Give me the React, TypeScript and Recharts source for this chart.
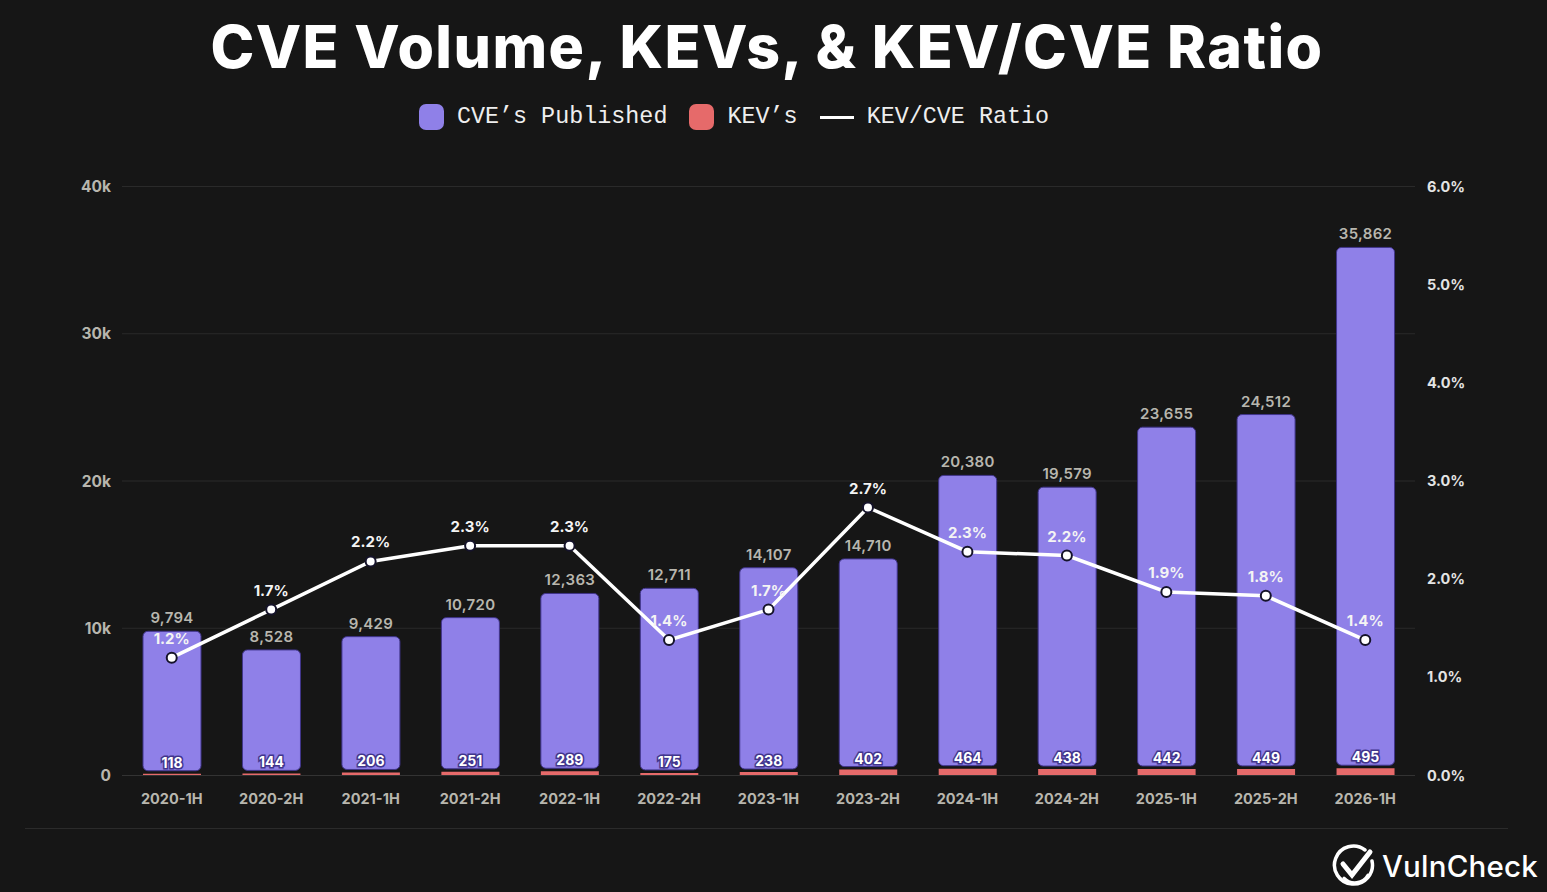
import React from 'react';
import {
  Bar,
  CartesianGrid,
  ComposedChart,
  LabelList,
  Legend,
  Line,
  XAxis,
  YAxis,
} from 'recharts';

const periods = [
  '2020-1H', '2020-2H', '2021-1H', '2021-2H', '2022-1H', '2022-2H', '2023-1H',
  '2023-2H', '2024-1H', '2024-2H', '2025-1H', '2025-2H', '2026-1H',
];
const cves = [9794, 8528, 9429, 10720, 12363, 12711, 14107, 14710, 20380, 19579, 23655, 24512, 35862];
const kevs = [118, 144, 206, 251, 289, 175, 238, 402, 464, 438, 442, 449, 495];
const ratios = [1.2, 1.69, 2.18, 2.34, 2.34, 1.38, 1.69, 2.73, 2.28, 2.24, 1.87, 1.83, 1.38];
const volumeTicks = [0, 10000, 20000, 30000, 40000];
const ratioTicks = [0, 1, 2, 3, 4, 5, 6];

const BG = '#161616';
const PURPLE = '#8f80e8';
const RED = '#e66a6a';
const TICK = '#b8b6ae';
const FONT = 'Inter, "Noto Sans", sans-serif';

// the purple part sits on top of the red one, only the part above it is stacked
const rows = periods.map((period, i) => ({
  period,
  cve: cves[i],
  kev: kevs[i],
  rest: cves[i] - kevs[i],
  ratio: ratios[i],
}));

const CveBar = (props: any) => {
  const { x, y, width, height } = props;
  return (
    <rect
      x={x}
      y={y}
      width={width}
      height={Math.max(height - 3, 0)}
      rx={5}
      fill={PURPLE}
      stroke="#41358c"
      strokeWidth={1}
    />
  );
};

const ChartLegend = ({ payload }: any) => {
  const items = [...(payload || [])].sort((a: any, b: any) =>
    a.value.startsWith('CVE') ? -1 : b.value.startsWith('CVE') ? 1 : a.value.localeCompare(b.value),
  );
  return (
    <div style={{ display: 'flex', alignItems: 'center', justifyContent: 'center', fontFamily: '"Liberation Mono", monospace', fontSize: 23.4, color: '#eeeeee' }}>
      {items.map((item: any) => (
        <div key={item.value} style={{ display: 'flex', alignItems: 'center', marginRight: 22 }}>
          {item.type === 'line' ? (
            <div style={{ width: 34, height: 3, background: '#fff', marginRight: 13 }} />
          ) : (
            <div style={{ width: 25, height: 26, borderRadius: 7, background: item.color, marginRight: 13 }} />
          )}
          {item.value}
        </div>
      ))}
    </div>
  );
};

const Logo = () => (
  <div style={{ position: 'absolute', left: 1332, top: 844, display: 'flex', alignItems: 'center' }}>
    <svg width={44} height={44} viewBox="0 0 44 44" fill="none" stroke="#fff" strokeLinecap="round">
      <path d="M33 6 A19 19 0 1 0 40 17" strokeWidth={3.5} />
      <path d="M36 31 A15 15 0 0 1 12 34" strokeWidth={3} />
      <path d="M11 20 L20 31 L38 8" strokeWidth={5} />
    </svg>
    <span style={{ marginLeft: 6, fontFamily: FONT, fontSize: 29.5, fontWeight: 500, color: '#fff', letterSpacing: 0.2 }}>
      VulnCheck
    </span>
  </div>
);

export default function App() {
  return (
    <div style={{ position: 'absolute', left: 0, top: 0, width: 1547, height: 892, background: BG, overflow: 'hidden' }}>
      <div
        style={{
          position: 'absolute',
          left: 0,
          width: 1534,
          top: 11,
          textAlign: 'center',
          fontFamily: FONT,
          fontSize: 59,
          fontWeight: 800,
          lineHeight: '72px',
          letterSpacing: 1.45,
          color: '#fff',
        }}
      >
        CVE Volume, KEVs, &amp; KEV/CVE Ratio
      </div>

      <ComposedChart
        width={1547}
        height={892}
        data={rows}
        margin={{ top: 186.5, right: 72, bottom: 86.5, left: 62 }}
        barSize={58}
        style={{ position: 'absolute', left: 0, top: 0 }}
      >
        <CartesianGrid vertical={false} stroke="#2a2a2a" yAxisId="volume" />
        <XAxis
          dataKey="period"
          axisLine={{ stroke: '#333333' }}
          tickLine={false}
          height={30}
          tickMargin={12}
          interval={0}
          tick={{ fontSize: 14.5, fontWeight: 700, fill: TICK, fontFamily: FONT }}
        />
        <YAxis
          yAxisId="volume"
          width={60}
          domain={[0, 40000]}
          ticks={volumeTicks}
          axisLine={false}
          tickLine={false}
          tickMargin={5}
          tickFormatter={(v: number) => (v === 0 ? '0' : `${v / 1000}k`)}
          tick={{ fontSize: 15.5, fontWeight: 700, fill: TICK, fontFamily: FONT }}
        />
        <YAxis
          yAxisId="ratio"
          orientation="right"
          width={60}
          domain={[0, 6]}
          ticks={ratioTicks}
          axisLine={false}
          tickLine={false}
          tickMargin={6}
          tickFormatter={(v: number) => `${v.toFixed(1)}%`}
          tick={{ fontSize: 14.5, fontWeight: 700, fill: '#e4e4e4', fontFamily: FONT }}
        />
        <Legend
          verticalAlign="middle"
          align="center"
          layout="horizontal"
          content={<ChartLegend />}
          wrapperStyle={{ top: 104, left: 0, width: 1490, height: 30 }}
        />
        <Bar yAxisId="volume" dataKey="kev" name="KEV’s" stackId="v" fill={RED} isAnimationActive={false} />
        <Bar
          yAxisId="volume"
          dataKey="rest"
          name="CVE’s Published"
          stackId="v"
          fill={PURPLE}
          shape={<CveBar />}
          isAnimationActive={false}
        >
          <LabelList
            dataKey="cve"
            position="top"
            offset={8}
            formatter={(v: number) => v.toLocaleString('en-US')}
            style={{ fontSize: 15, fontWeight: 600, fill: TICK, fontFamily: FONT, letterSpacing: 0.3 }}
          />
          <LabelList
            dataKey="kev"
            position="insideBottom"
            offset={6}
            style={{
              fontSize: 14,
              fontWeight: 700,
              fill: '#fff',
              fontFamily: FONT,
              stroke: '#41358c',
              strokeWidth: 3,
              paintOrder: 'stroke',
            }}
          />
        </Bar>
        <Line
          yAxisId="ratio"
          dataKey="ratio"
          name="KEV/CVE Ratio"
          type="linear"
          stroke="#fff"
          strokeWidth={3.5}
          dot={{ r: 5, fill: '#fff', stroke: '#15132a', strokeWidth: 2 }}
          legendType="line"
          isAnimationActive={false}
        >
          <LabelList
            dataKey="ratio"
            position="top"
            offset={14}
            formatter={(v: number) => `${v.toFixed(1)}%`}
            style={{ fontSize: 15, fontWeight: 700, fill: '#f4f4f4', fontFamily: FONT }}
          />
        </Line>
      </ComposedChart>

      <div style={{ position: 'absolute', left: 25, top: 828, width: 1483, height: 1, background: '#2b2b2b' }} />
      <Logo />
    </div>
  );
}
